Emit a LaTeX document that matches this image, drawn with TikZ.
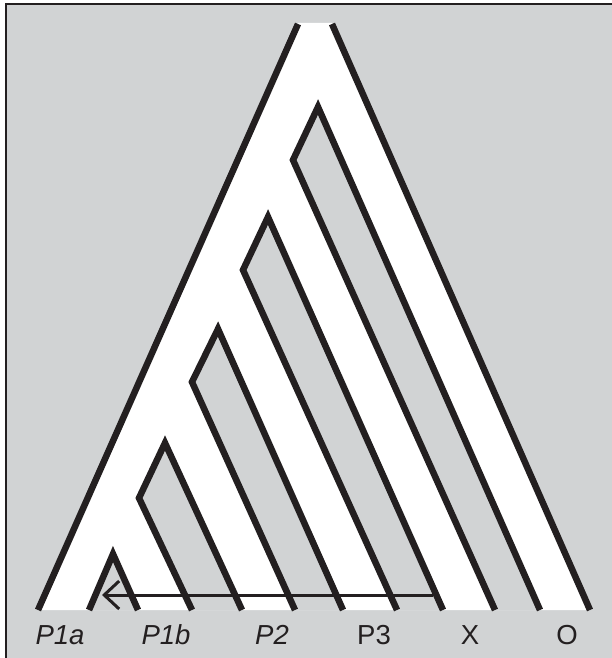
\documentclass[tikz,border=0pt]{standalone}
\usepackage{fontspec}
\setmainfont{Liberation Sans}
\usetikzlibrary{arrows.meta}
\definecolor{bggray}{HTML}{D1D3D4}
\definecolor{ink}{HTML}{231F20}
\begin{document}
\begin{tikzpicture}[x=1pt,y=-1pt,
  treeline/.style={draw=ink, line width=6.5pt, line join=miter},
  hole/.style={fill=bggray},
  frameline/.style={draw=ink, line width=1.8pt},
  lab/.style={anchor=base, font=\fontsize{27.5}{32}\selectfont, text=ink, inner sep=0pt},
  arrowline/.style={draw=ink, line width=3pt, -{Straight Barb[length=15pt,width=28pt]}}]
\useasboundingbox (0,0) rectangle (612,658);
% background
\fill[bggray] (6,4) rectangle (612,658);
\draw[frameline] (6,658) -- (6,4) -- (612,4);
% white tree body
\fill[white] (38,610) -- (298,23) -- (332,23) -- (590,610) -- cycle;
% gray holes
\fill[hole] (495,610) -- (293,160) -- (318,107) -- (540,610) -- cycle;
\fill[hole] (397,610) -- (243,270) -- (268,217) -- (443,610) -- cycle;
\fill[hole] (295,610) -- (192,382) -- (218,329) -- (343,610) -- cycle;
\fill[hole] (192,610) -- (139,498) -- (165,443) -- (242,610) -- cycle;
\fill[hole] (89,610) -- (113,554) -- (138,610) -- cycle;
% lines
\draw[treeline] (38,610) -- (298,24);
\draw[treeline] (332,24) -- (590,610);
\draw[treeline] (495,610) -- (293,160) -- (318,107) -- (540,610);
\draw[treeline] (397,610) -- (243,270) -- (268,217) -- (443,610);
\draw[treeline] (295,610) -- (192,382) -- (218,329) -- (343,610);
\draw[treeline] (192,610) -- (139,498) -- (165,443) -- (242,610);
\draw[treeline] (89,610) -- (113,554) -- (138,610);
% arrow
\coordinate (arrS) at (433,595);
\coordinate (arrE) at (102,595);
\draw[arrowline] (arrS) -- (arrE);
% labels
\node[lab] (p1a) at (60,644) {\itshape P1a};
\node[lab] (p1b) at (166,644) {\itshape P1b};
\node[lab] (p2) at (272,644) {\itshape P2};
\node[lab] (p3) at (374,644) {P3};
\node[lab] (x) at (470,644) {X};
\node[lab] (o) at (567,644) {O};
\end{tikzpicture}
\end{document}
